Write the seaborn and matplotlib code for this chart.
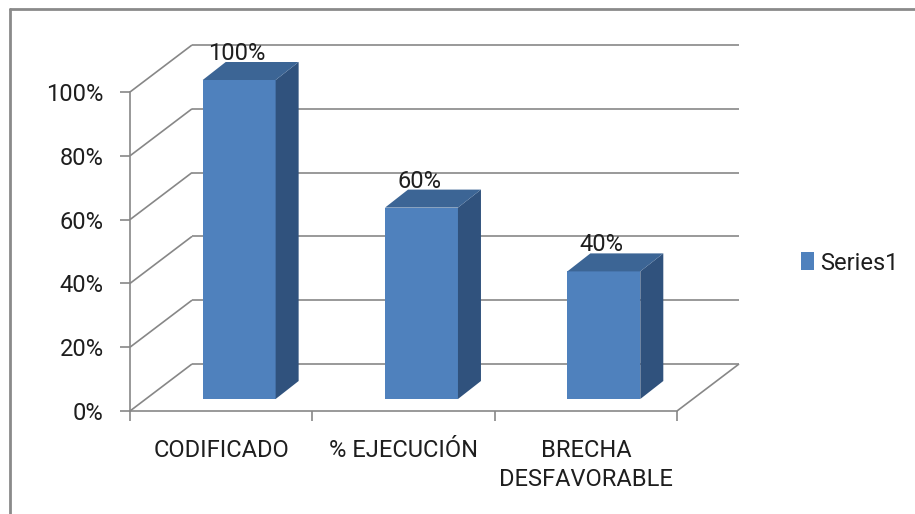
import matplotlib
matplotlib.use("Agg")
import matplotlib.pyplot as plt
import matplotlib.transforms as mtrans
from matplotlib.patches import Polygon, Patch
from matplotlib.lines import Line2D
import pandas as pd
import seaborn as sns

# ---- data -------------------------------------------------------------
categories = ["CODIFICADO", "% EJECUCIÓN", "BRECHA\nDESFAVORABLE"]
values = [1.00, 0.60, 0.40]
value_labels = ["100%", "60%", "40%"]
y_ticks = [0.0, 0.2, 0.4, 0.6, 0.8, 1.0]
y_tick_labels = ["0%", "20%", "40%", "60%", "80%", "100%"]
series_name = "Series1"

# ---- style ------------------------------------------------------------
FRONT = "#4F81BD"
TOP = "#3C6595"
SIDE = "#30527D"
GRID = "#878787"
TEXT = "#1e1e1e"
FS = 17

sns.set_theme(style="white")
plt.rcParams["font.family"] = ["Roboto", "Open Sans", "DejaVu Sans"]

W, H, DPI = 915, 514, 100
fig = plt.figure(figsize=(W / DPI, H / DPI), dpi=DPI)
fig.patch.set_facecolor("white")


def px_box(left, top, right, bottom):
    return [left / W, 1 - bottom / H, (right - left) / W, (bottom - top) / H]


# front plane of the 3-D box
ax = fig.add_axes(px_box(130, 92, 677, 411))
ax.set_facecolor("none")

df = pd.DataFrame({"categoria": categories, "valor": values})
sns.barplot(data=df, x="categoria", y="valor", color=FRONT, saturation=1,
            width=0.4, ax=ax, edgecolor="none", linewidth=0, zorder=3)
ax.set_xlim(-0.5, 2.5)
ax.set_ylim(0, 1.0)

# depth offsets in pixels (right, up)
WALL = (62, 47)
BAR_FRONT = (18, 12)
BAR_BACK = (41, 30)


def shift(dx, dy):
    return ax.transData + mtrans.ScaledTranslation(dx / DPI, dy / DPI, fig.dpi_scale_trans)


def to_data(x, y, off):
    return ax.transData.inverted().transform(shift(*off).transform((x, y)))


line_kw = dict(color=GRID, lw=1.2, clip_on=False, solid_capstyle="butt")

# back wall gridlines and side wall diagonals
for v in y_ticks:
    ax.plot([-0.5, 2.5], [v, v], transform=shift(*WALL), zorder=1, **line_kw)
    bx, by = to_data(-0.5, v, WALL)
    ax.plot([-0.5, bx], [v, by], zorder=1, **line_kw)
# right edge of the floor
bx, by = to_data(2.5, 0, WALL)
ax.plot([2.5, bx], [0, by], zorder=1, **line_kw)

# 3-D bars: front faces from seaborn, sides and tops added
bars = list(ax.patches)
for bar, lab in zip(bars, value_labels):
    x0, w, h = bar.get_x(), bar.get_width(), bar.get_height()
    bar.set_transform(shift(*BAR_FRONT))
    bar.set_clip_on(False)
    side = [to_data(x0 + w, 0, BAR_FRONT), to_data(x0 + w, h, BAR_FRONT),
            to_data(x0 + w, h, BAR_BACK), to_data(x0 + w, 0, BAR_BACK)]
    top = [to_data(x0, h, BAR_FRONT), to_data(x0 + w, h, BAR_FRONT),
           to_data(x0 + w, h, BAR_BACK), to_data(x0, h, BAR_BACK)]
    ax.add_patch(Polygon(side, closed=True, facecolor=SIDE, edgecolor="none",
                         zorder=3, clip_on=False))
    ax.add_patch(Polygon(top, closed=True, facecolor=TOP, edgecolor="none",
                         zorder=3, clip_on=False))
    ax.text(x0 + w / 2, h, lab, transform=shift(BAR_FRONT[0] - 2, BAR_FRONT[1] + 20),
            ha="center", va="baseline", fontsize=FS, color=TEXT, clip_on=False,
            zorder=4)

# axes
for s in ["top", "right"]:
    ax.spines[s].set_visible(False)
for s in ["left", "bottom"]:
    ax.spines[s].set_color(GRID)
    ax.spines[s].set_linewidth(1.2)
    ax.spines[s].set_zorder(2)

ax.set_yticks(y_ticks)
ax.set_yticklabels(y_tick_labels)
ax.tick_params(axis="y", left=True, length=7, width=1.2, color=GRID, pad=12,
               labelsize=FS, labelcolor=TEXT)
ax.set_xticks(range(len(categories)))
ax.set_xticklabels(categories, linespacing=1.35)
ax.set_xticks([-0.5, 0.5, 1.5, 2.5], minor=True)
ax.tick_params(axis="x", which="major", bottom=False, length=0, pad=20,
               labelsize=FS, labelcolor=TEXT)
ax.tick_params(axis="x", which="minor", bottom=True, length=7, width=1.2,
               color=GRID)
ax.set_xlabel("")
ax.set_ylabel("")

# legend
fig.legend(handles=[Patch(facecolor=FRONT, edgecolor="none")], labels=[series_name],
           loc="center left", bbox_to_anchor=(801 / W, 1 - 263 / H), frameon=False,
           handlelength=0.55, handleheight=0.8, handletextpad=0.25, borderpad=0,
           borderaxespad=0, fontsize=FS, labelcolor=TEXT)

# chart area border (top and left edges)
fig.add_artist(Line2D([10 / W, 1], [1 - 9 / H, 1 - 9 / H], transform=fig.transFigure,
                      color="#8a8a8a", lw=2))
fig.add_artist(Line2D([10 / W, 10 / W], [0, 1 - 9 / H], transform=fig.transFigure,
                      color="#8a8a8a", lw=2))

fig.savefig("out.png", dpi=DPI, facecolor="white")
